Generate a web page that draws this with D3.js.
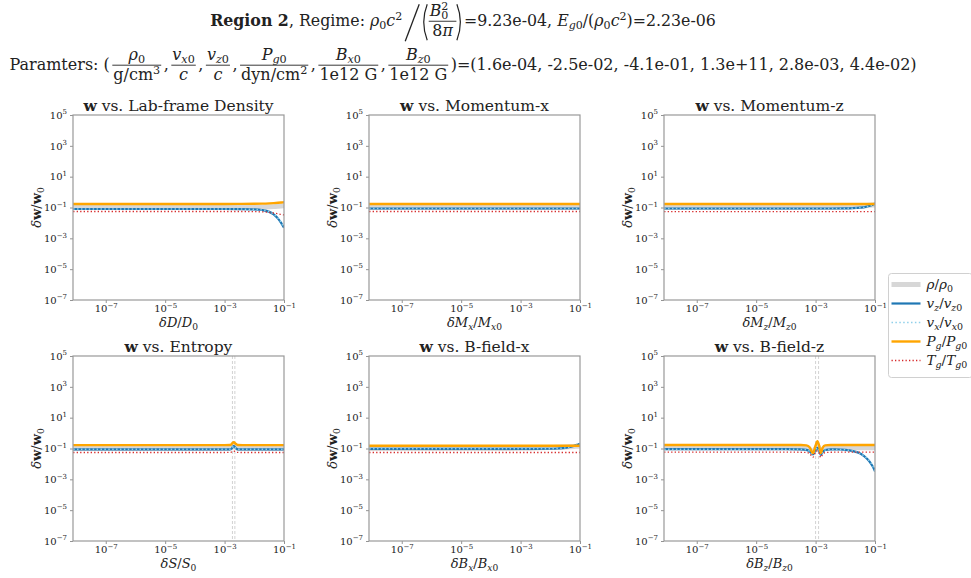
<!DOCTYPE html>
<html>
<head>
<meta charset="utf-8">
<script src="https://cdn.jsdelivr.net/npm/d3@7"></script>
<style>
  body { margin: 0; background: #fff; }
  svg { display: block; }
  text { font-family: "DejaVu Serif", serif; fill: #222; }
</style>
</head>
<body>
<svg id="fig" width="971" height="578"></svg>
<script>
// ---- axis settings ----
const xDomain = [7.9e-9, 1e-1];
const yDomain = [1e-7, 1e5];
const xTicks = [1e-7, 1e-5, 1e-3, 1e-1];
const yTicks = [1e-7, 1e-5, 1e-3, 1e-1, 1e1, 1e3, 1e5];

// ---- shared perturbation grid (dw/w0 sampled along dX/X0) ----
const gridX = [8e-9, 1e-7, 1e-5, 1e-4, 1e-3, 3e-3, 1e-2, 1.8e-2, 3.2e-2, 4.5e-2, 6.3e-2, 8e-2, 9e-2, 1e-1];

// Lab-frame density
const densRho = [0.1, 0.1, 0.1, 0.1, 0.1, 0.1, 0.102, 0.105, 0.11, 0.114, 0.12, 0.125, 0.128, 0.13];
const densVz  = [0.08, 0.08, 0.08, 0.08, 0.08, 0.079, 0.076, 0.069, 0.052, 0.036, 0.019, 0.01, 0.0068, 0.005];
const densVx  = [0.08, 0.08, 0.08, 0.08, 0.08, 0.079, 0.076, 0.07, 0.053, 0.037, 0.02, 0.011, 0.007, 0.0052];
const densPg  = [0.17, 0.17, 0.17, 0.17, 0.17, 0.171, 0.174, 0.178, 0.186, 0.193, 0.202, 0.21, 0.215, 0.22];
const densTg  = [0.055, 0.055, 0.055, 0.055, 0.055, 0.055, 0.054, 0.052, 0.048, 0.044, 0.039, 0.035, 0.034, 0.033];

// Momentum-x
const momXX   = [8e-9, 1e-5, 1e-1];
const momXRho = [0.1, 0.1, 0.1];
const momXVz  = [0.086, 0.086, 0.086];
const momXVx  = [0.086, 0.086, 0.086];
const momXPg  = [0.17, 0.17, 0.17];
const momXTg  = [0.055, 0.055, 0.055];

// Momentum-z
const momZRho = [0.1, 0.1, 0.1, 0.1, 0.1, 0.104, 0.11, 0.116, 0.124, 0.13, 0.138, 0.144, 0.147, 0.15];
const momZVz  = [0.086, 0.086, 0.086, 0.086, 0.086, 0.086, 0.087, 0.09, 0.098, 0.107, 0.125, 0.146, 0.162, 0.185];
const momZVx  = [0.086, 0.086, 0.086, 0.086, 0.086, 0.086, 0.087, 0.09, 0.097, 0.106, 0.123, 0.144, 0.16, 0.182];
const momZPg  = [0.167, 0.167, 0.167, 0.167, 0.167, 0.167, 0.167, 0.167, 0.167, 0.167, 0.167, 0.167, 0.167, 0.167];
const momZTg  = [0.054, 0.054, 0.054, 0.054, 0.054, 0.054, 0.054, 0.054, 0.054, 0.054, 0.054, 0.054, 0.054, 0.054];

// Entropy
const entX   = [8e-9, 1e-7, 1e-5, 1e-4, 1e-3, 1.5e-3, 1.75e-3, 1.9e-3, 2e-3, 2.1e-3, 2.25e-3, 2.5e-3, 2.8e-3, 4e-3, 1e-2, 1e-1];
const entRho = [0.1, 0.1, 0.1, 0.1, 0.1, 0.101, 0.115, 0.14, 0.15, 0.145, 0.13, 0.112, 0.101, 0.1, 0.1, 0.1];
const entVz  = [0.088, 0.088, 0.088, 0.088, 0.088, 0.089, 0.1, 0.13, 0.145, 0.14, 0.12, 0.099, 0.089, 0.088, 0.088, 0.088];
const entVx  = [0.088, 0.088, 0.088, 0.088, 0.088, 0.089, 0.1, 0.13, 0.145, 0.14, 0.12, 0.099, 0.089, 0.088, 0.088, 0.088];
const entPg  = [0.165, 0.165, 0.165, 0.165, 0.165, 0.167, 0.2, 0.24, 0.26, 0.25, 0.22, 0.19, 0.168, 0.165, 0.165, 0.165];
const entTg  = [0.055, 0.055, 0.055, 0.055, 0.055, 0.056, 0.06, 0.066, 0.07, 0.068, 0.063, 0.058, 0.056, 0.055, 0.055, 0.055];
const entMarks = [1.84e-3, 2.22e-3];

// B-field-x
const bXRho = [0.1, 0.1, 0.1, 0.1, 0.102, 0.108, 0.115, 0.12, 0.126, 0.13, 0.135, 0.14, 0.142, 0.145];
const bXVz  = [0.095, 0.095, 0.095, 0.095, 0.095, 0.095, 0.096, 0.1, 0.11, 0.125, 0.15, 0.172, 0.185, 0.2];
const bXVx  = [0.095, 0.095, 0.095, 0.095, 0.095, 0.095, 0.096, 0.1, 0.109, 0.123, 0.148, 0.17, 0.183, 0.197];
const bXPg  = [0.15, 0.15, 0.15, 0.15, 0.15, 0.15, 0.15, 0.15, 0.15, 0.15, 0.15, 0.15, 0.15, 0.15];
const bXTg  = [0.055, 0.055, 0.055, 0.055, 0.055, 0.055, 0.055, 0.055, 0.055, 0.055, 0.055, 0.055, 0.055, 0.055];

// B-field-z
const bZX   = [8e-9, 1e-7, 1e-5, 1e-4, 3.2e-4, 4.9e-4, 6.3e-4, 8.1e-4, 1e-3, 1.15e-3, 1.32e-3, 1.48e-3, 1.74e-3, 2.1e-3, 3.2e-3, 7e-3, 1e-2, 1.8e-2, 3.2e-2, 4.3e-2, 5.6e-2, 7.2e-2, 8.5e-2, 1e-1];
const bZRho = [0.11, 0.11, 0.11, 0.11, 0.108, 0.1, 0.085, 0.06, 0.1, 0.15, 0.1, 0.06, 0.085, 0.104, 0.11, 0.11, 0.11, 0.11, 0.11, 0.11, 0.11, 0.11, 0.11, 0.11];
const bZVz  = [0.09, 0.09, 0.09, 0.09, 0.088, 0.082, 0.066, 0.042, 0.08, 0.11, 0.075, 0.038, 0.06, 0.08, 0.087, 0.086, 0.082, 0.068, 0.047, 0.032, 0.02, 0.011, 0.0065, 0.0033];
const bZVx  = [0.09, 0.09, 0.09, 0.09, 0.088, 0.082, 0.066, 0.043, 0.08, 0.11, 0.075, 0.039, 0.06, 0.08, 0.087, 0.086, 0.082, 0.069, 0.048, 0.033, 0.021, 0.012, 0.007, 0.0036];
const bZPg  = [0.17, 0.17, 0.17, 0.17, 0.168, 0.158, 0.12, 0.05, 0.15, 0.3, 0.15, 0.05, 0.115, 0.158, 0.168, 0.17, 0.17, 0.17, 0.17, 0.17, 0.17, 0.17, 0.17, 0.17];
const bZTg  = [0.058, 0.058, 0.058, 0.058, 0.057, 0.055, 0.047, 0.027, 0.055, 0.07, 0.05, 0.026, 0.042, 0.054, 0.057, 0.058, 0.058, 0.058, 0.058, 0.058, 0.058, 0.058, 0.058, 0.058];
const bZMarks = [1e-3, 1.26e-3];

const panelTitles = ["Lab-frame Density", "Momentum-x", "Momentum-z", "Entropy", "B-field-x", "B-field-z"];

// x-axis labels as [text, style] runs: i = italic, _ = subscript, ^ = superscript, b = bold
const xLabels = [
  [["δ", "i"], ["D", "i"], ["/"], ["D", "i"], ["0", "_"]],
  [["δ", "i"], ["M", "i"], ["x", "_i"], ["/"], ["M", "i"], ["x", "_i"], ["0", "_"]],
  [["δ", "i"], ["M", "i"], ["z", "_i"], ["/"], ["M", "i"], ["z", "_i"], ["0", "_"]],
  [["δ", "i"], ["S", "i"], ["/"], ["S", "i"], ["0", "_"]],
  [["δ", "i"], ["B", "i"], ["x", "_i"], ["/"], ["B", "i"], ["x", "_i"], ["0", "_"]],
  [["δ", "i"], ["B", "i"], ["z", "_i"], ["/"], ["B", "i"], ["z", "_i"], ["0", "_"]]
];

const legendLabels = [
  [["ρ", "i"], ["/"], ["ρ", "i"], ["0", "_"]],
  [["v", "i"], ["z", "_i"], ["/"], ["v", "i"], ["z", "_i"], ["0", "_"]],
  [["v", "i"], ["x", "_i"], ["/"], ["v", "i"], ["x", "_i"], ["0", "_"]],
  [["P", "i"], ["g", "_i"], ["/"], ["P", "i"], ["g", "_i"], ["0", "_"]],
  [["T", "i"], ["g", "_i"], ["/"], ["T", "i"], ["g", "_i"], ["0", "_"]]
];

// line styles, in drawing order: rho, vz, vx, Pg, Tg
const seriesStyles = [
  { color: "#d3d3d3", width: 5, dash: null, opacity: 0.9 },
  { color: "#1f77b4", width: 2.2, dash: null, opacity: 1 },
  { color: "#8fd0ea", width: 1.5, dash: "1.5,2.4", opacity: 1 },
  { color: "#ffa500", width: 2.4, dash: null, opacity: 1 },
  { color: "#d62728", width: 1.3, dash: "1.3,2.2", opacity: 1 }
];

const panels = [
  { x: gridX, ys: [densRho, densVz, densVx, densPg, densTg], marks: [] },
  { x: momXX, ys: [momXRho, momXVz, momXVx, momXPg, momXTg], marks: [] },
  { x: gridX, ys: [momZRho, momZVz, momZVx, momZPg, momZTg], marks: [] },
  { x: entX,  ys: [entRho, entVz, entVx, entPg, entTg], marks: entMarks },
  { x: gridX, ys: [bXRho, bXVz, bXVx, bXPg, bXTg], marks: [] },
  { x: bZX,   ys: [bZRho, bZVz, bZVx, bZPg, bZTg], marks: bZMarks }
];

const svg = d3.select("#fig");
svg.append("rect").attr("width", 971).attr("height", 578).attr("fill", "#fff");

// Build a <text> out of runs with sub/superscripts.
function mathText(parent, x, y, parts, size) {
  const t = parent.append("text").attr("x", x).attr("y", y).attr("font-size", size);
  let shift = 0;
  parts.forEach(p => {
    const s = p[0], st = p[1] || "", dx = p[2] || 0;
    const ts = t.append("tspan").text(s);
    let target = 0, fs = size;
    if (st.includes("_")) { target = 0.2 * size; fs = 0.7 * size; }
    if (st.includes("^")) { target = -0.4 * size; fs = 0.7 * size; }
    ts.attr("dy", target - shift).attr("font-size", fs);
    if (dx) ts.attr("dx", dx * size);
    shift = target;
    if (st.includes("i")) ts.attr("font-style", "italic");
    if (st.includes("b")) ts.attr("font-weight", "bold");
  });
  return t;
}

// Lay out a header line made of text runs, fractions and tall delimiters.
function headerLine(items, base, size, cx, fracPad) {
  const g = svg.append("g");
  const axisY = base - 0.3 * size;
  let x = 0;
  items.forEach(it => {
    if (it.run) {
      const t = mathText(g, x, base, it.run, size);
      x += t.node().getComputedTextLength();
    } else if (it.gap) {
      x += it.gap;
    } else if (it.frac) {
      x += fracPad;
      const n = mathText(g, 0, axisY - 5, it.frac[0], size);
      const d = mathText(g, 0, axisY + 15, it.frac[1], size);
      const wn = n.node().getComputedTextLength();
      const wd = d.node().getComputedTextLength();
      const w = Math.max(wn, wd) + 3;
      n.attr("x", x + (w - wn) / 2);
      d.attr("x", x + (w - wd) / 2);
      g.append("line").attr("x1", x + 0.5).attr("x2", x + w - 0.5)
        .attr("y1", axisY).attr("y2", axisY).attr("stroke", "#222").attr("stroke-width", 0.9);
      x += w + fracPad;
    } else if (it.paren) {
      const top = axisY - it.up, bot = axisY + it.down, w = it.w;
      const path = it.paren === "("
        ? `M${x + w},${top} Q${x - 1},${(top + bot) / 2} ${x + w},${bot}`
        : `M${x},${top} Q${x + w + 1},${(top + bot) / 2} ${x},${bot}`;
      g.append("path").attr("d", path).attr("fill", "none").attr("stroke", "#222").attr("stroke-width", 1.2);
      x += w + 1;
    } else if (it.slash) {
      g.append("line").attr("x1", x + 1).attr("y1", axisY + it.down)
        .attr("x2", x + it.w).attr("y2", axisY - it.up)
        .attr("stroke", "#222").attr("stroke-width", 1.3);
      x += it.w + 2;
    }
  });
  g.attr("transform", `translate(${cx - x / 2},0)`);
  return g;
}

// Header line 1: regime
headerLine([
  { run: [["Region 2", "b"], [", Regime: "], ["ρ", "i"], ["0", "_"], ["c", "i"], ["2", "^"]] },
  { gap: 2 },
  { slash: true, w: 15, up: 17, down: 20 },
  { paren: "(", w: 6, up: 17, down: 19 },
  { frac: [[["B", "i"], ["0", "_"], ["2", "^", -0.45]], [["8"], ["π", "i"]]] },
  { paren: ")", w: 6, up: 17, down: 19 },
  { run: [["=9.23e-04, "], ["E", "i"], ["g", "_i"], ["0", "_"], ["/("], ["ρ", "i"], ["0", "_"], ["c", "i"], ["2", "^"], [")=2.23e-06"]] }
], 26, 15.8, 463, 0);

// Header line 2: parameters
headerLine([
  { run: [["Paramters: ("]] },
  { frac: [[["ρ", "i"], ["0", "_"]], [["g/cm"], ["3", "^"]]] },
  { run: [[", "]] },
  { frac: [[["v", "i"], ["x", "_i"], ["0", "_"]], [["c", "i"]]] },
  { run: [[", "]] },
  { frac: [[["v", "i"], ["z", "_i"], ["0", "_"]], [["c", "i"]]] },
  { run: [[", "]] },
  { frac: [[["P", "i"], ["g", "_i"], ["0", "_"]], [["dyn/cm"], ["2", "^"]]] },
  { run: [[", "]] },
  { frac: [[["B", "i"], ["x", "_i"], ["0", "_"]], [["1e12 G"]]] },
  { run: [[", "]] },
  { frac: [[["B", "i"], ["z", "_i"], ["0", "_"]], [["1e12 G"]]] },
  { run: [[")=(1.6e-04, -2.5e-02, -4.1e-01, 1.3e+11, 2.8e-03, 4.4e-02)"]] }
], 70, 16, 463, 2);

// ---- panels ----
const colX = [73, 369, 664];
const rowY = [115, 356];
const pw = 211, ph = 185;

function supLabel(sel, d) {
  const e = Math.round(Math.log10(d));
  sel.text(null);
  sel.append("tspan").text("10");
  sel.append("tspan").text(e < 0 ? "\u2212" + (-e) : String(e))
    .attr("font-size", 7).attr("dy", -4.5);
}

panels.forEach((p, i) => {
  const col = i % 3, row = Math.floor(i / 3);
  const x0 = colX[col], y0 = rowY[row];
  const x = d3.scaleLog().domain(xDomain).range([0, pw]);
  const y = d3.scaleLog().domain(yDomain).range([ph, 0]);
  const g = svg.append("g").attr("transform", `translate(${x0},${y0})`);

  const clipId = "clip" + i;
  g.append("clipPath").attr("id", clipId).append("rect").attr("width", pw).attr("height", ph);
  const plot = g.append("g").attr("clip-path", `url(#${clipId})`);

  // resonance markers
  p.marks.forEach(m => {
    plot.append("line").attr("x1", x(m)).attr("x2", x(m)).attr("y1", 0).attr("y2", ph)
      .attr("stroke", "#c8c8c8").attr("stroke-width", 0.8).attr("stroke-dasharray", "3,2");
  });

  const line = d3.line().x(d => x(d[0])).y(d => y(d[1])).curve(d3.curveMonotoneX);
  p.ys.forEach((vals, k) => {
    const st = seriesStyles[k];
    plot.append("path")
      .attr("d", line(p.x.map((xv, j) => [xv, vals[j]])))
      .attr("fill", "none").attr("stroke", st.color).attr("stroke-width", st.width)
      .attr("stroke-opacity", st.opacity)
      .attr("stroke-dasharray", st.dash);
  });

  // axes
  const ax = g.append("g").attr("transform", `translate(0,${ph})`)
    .call(d3.axisBottom(x).tickValues(xTicks).tickSize(3).tickPadding(3));
  ax.selectAll(".tick text").each(function (d) { supLabel(d3.select(this), d); });
  const ay = g.append("g").call(d3.axisLeft(y).tickValues(yTicks).tickSize(3).tickPadding(3));
  ay.selectAll(".tick text").each(function (d) { supLabel(d3.select(this), d); });
  [ax, ay].forEach(a => {
    a.select(".domain").remove();
    a.selectAll(".tick line").attr("stroke", "#777").attr("stroke-width", 0.8);
    a.selectAll(".tick text").attr("font-family", "DejaVu Serif").attr("font-size", 10).attr("fill", "#222");
  });
  ax.selectAll(".tick text").attr("dy", "0.62em");

  // frame
  g.append("rect").attr("width", pw).attr("height", ph)
    .attr("fill", "none").attr("stroke", "#999").attr("stroke-width", 1.2);

  // title
  const tt = g.append("text").attr("x", pw / 2).attr("y", -4).attr("text-anchor", "middle").attr("font-size", 15.5);
  tt.append("tspan").text("w").attr("font-weight", "bold");
  tt.append("tspan").text(" vs. " + panelTitles[i]);

  // x label
  mathText(g, pw / 2, ph + 27, xLabels[i], 13).attr("text-anchor", "middle");

  // y label
  mathText(g.append("g").attr("transform", `translate(-32,${ph / 2}) rotate(-90)`), 0, 0,
    [["δ", "i"], ["w", "b"], ["/"], ["w", "b"], ["0", "_"]], 13).attr("text-anchor", "middle");
});

// ---- legend ----
const lg = svg.append("g").attr("transform", "translate(888.5,273.5)");
lg.append("rect").attr("width", 84).attr("height", 104).attr("rx", 3)
  .attr("fill", "#fff").attr("fill-opacity", 0.8).attr("stroke", "#d0d0d0").attr("stroke-width", 1);
legendLabels.forEach((lab, k) => {
  const st = seriesStyles[k];
  const yy = 11 + k * 19;
  lg.append("line").attr("x1", 3).attr("x2", 32).attr("y1", yy).attr("y2", yy)
    .attr("stroke", st.color).attr("stroke-width", st.width).attr("stroke-opacity", st.opacity)
    .attr("stroke-dasharray", st.dash);
  mathText(lg, 38, yy + 4.5, lab, 13.5);
});
</script>
</body>
</html>
